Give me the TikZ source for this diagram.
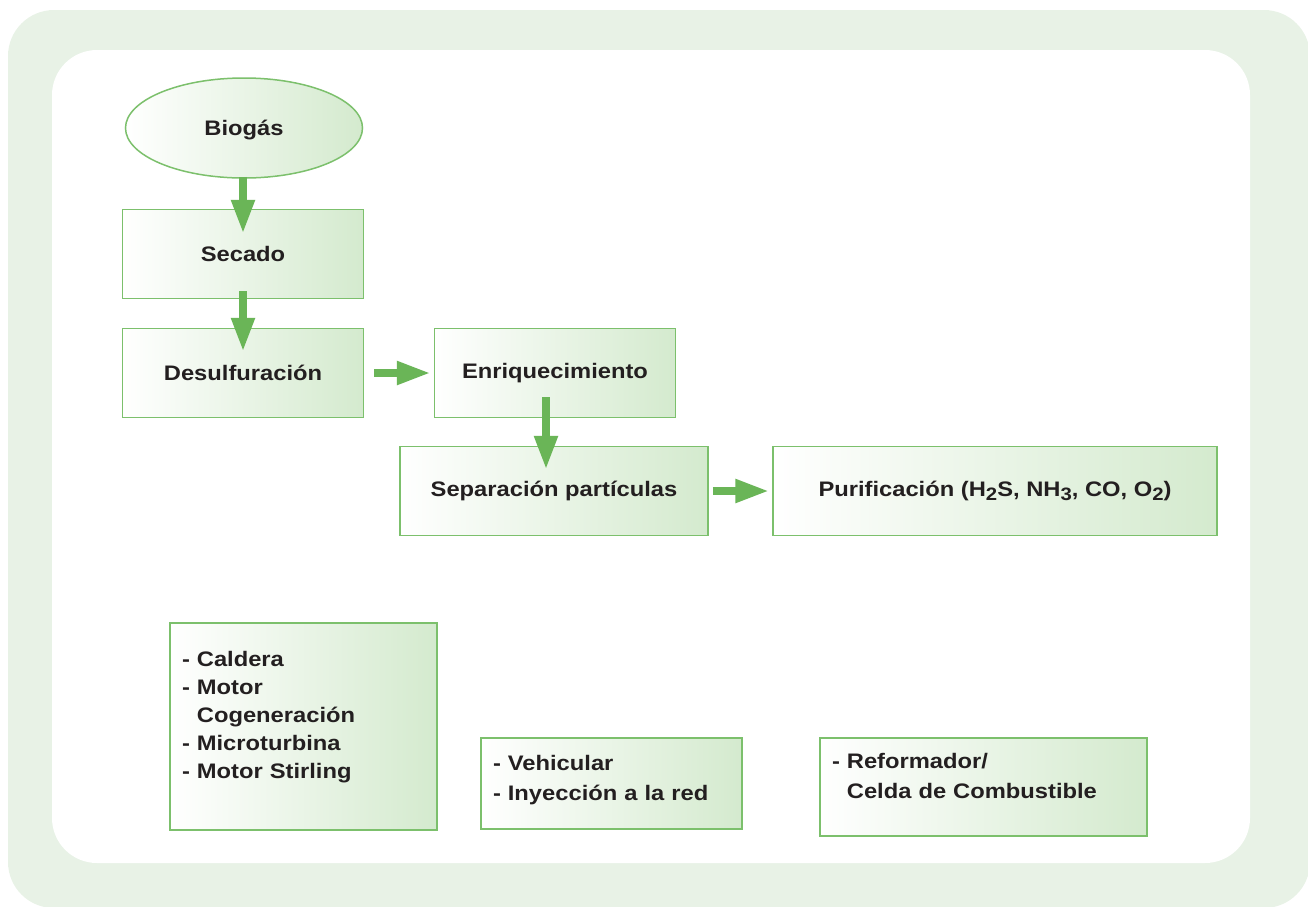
\documentclass[tikz,border=0pt]{standalone}
\usepackage{fontspec}
\setmainfont{Liberation Sans}[FakeStretch=1.13]
\usetikzlibrary{shapes.geometric,arrows.meta}
\definecolor{frame}{HTML}{E8F2E6}
\definecolor{boxline}{HTML}{7CC06C}
\definecolor{boxfill}{HTML}{D4EACE}
\definecolor{flowgreen}{HTML}{6AB557}
\definecolor{txt}{HTML}{231F20}
\newcommand{\chemsub}[1]{\raisebox{-0.35ex}{\fontsize{18}{18}\selectfont #1}}
\newcommand{\lift}[1]{\rule[-#1]{0pt}{0pt}}
\begin{document}
\begin{tikzpicture}[x=1pt, y=-1pt,
    stage/.style={draw=boxline, line width=1.5pt, left color=white, right color=boxfill,
        text=txt, font=\bfseries\fontsize{21}{28}\selectfont},
    proc/.style={stage, rectangle, minimum width=#1, minimum height=89pt},
    uses/.style={stage, rectangle, align=left, inner xsep=12pt, text width=#1},
    flow/.style={-{Triangle[length=34pt, width=22pt]}, draw=flowgreen, line width=8pt}]
    \clip (0,0) rectangle (1308,906);
    % frame
    \fill[frame, rounded corners=46pt] (8,10) rectangle (1310,908);
    \fill[white, rounded corners=45pt] (52,50) rectangle (1250,863);
    % treatment chain
    \node[stage, ellipse, minimum width=237pt, minimum height=100pt, inner sep=0pt, text depth=0pt] (biogas) at (244,128) {Biogás};
    \node[proc=241pt] (secado) at (243,254) {Secado};
    \node[proc=241pt] (desulf) at (243,373) {Desulfuración};
    \node[proc=241pt] (enriq) at (555,373) {Enriquecimiento};
    \node[proc=308pt] (separ) at (554,491) {Separación partículas};
    \node[proc=444pt] (purif) at (995,491) {Purificación (H\chemsub{2}S, NH\chemsub{3}, CO, O\chemsub{2})};
    \draw[flow, shorten <=-2pt, shorten >=-25pt] ([xshift=-1pt]biogas.south) -- (secado.north);
    \draw[flow, shorten <=-8pt, shorten >=-24pt] (secado.south) -- (desulf.north);
    \draw[flow, shorten <=10pt, shorten >=3pt] (desulf.east) -- (enriq.west);
    \draw[flow, shorten <=-21pt, shorten >=-24pt] ([xshift=-9pt]enriq.south) -- ([xshift=-8pt]separ.north);
    \draw[flow, shorten <=4pt, shorten >=3pt] (separ.east) -- (purif.west);
    % uses
    \node[uses=243pt, minimum height=207pt] (calor) at (303.5,726.5) {- Caldera\\- Motor\\\phantom{- }Cogeneración\\- Microturbina\\- Motor Stirling\lift{24pt}};
    \node[uses=237pt, minimum height=91pt] (gas) at (611.5,783.5) {- Vehicular\\[2pt]- Inyección a la red\lift{11pt}};
    \node[uses=303pt, minimum height=98pt] (pila) at (983.5,787) {- Reformador/\\[2pt]\phantom{- }Celda de Combustible\lift{23pt}};
\end{tikzpicture}
\end{document}
